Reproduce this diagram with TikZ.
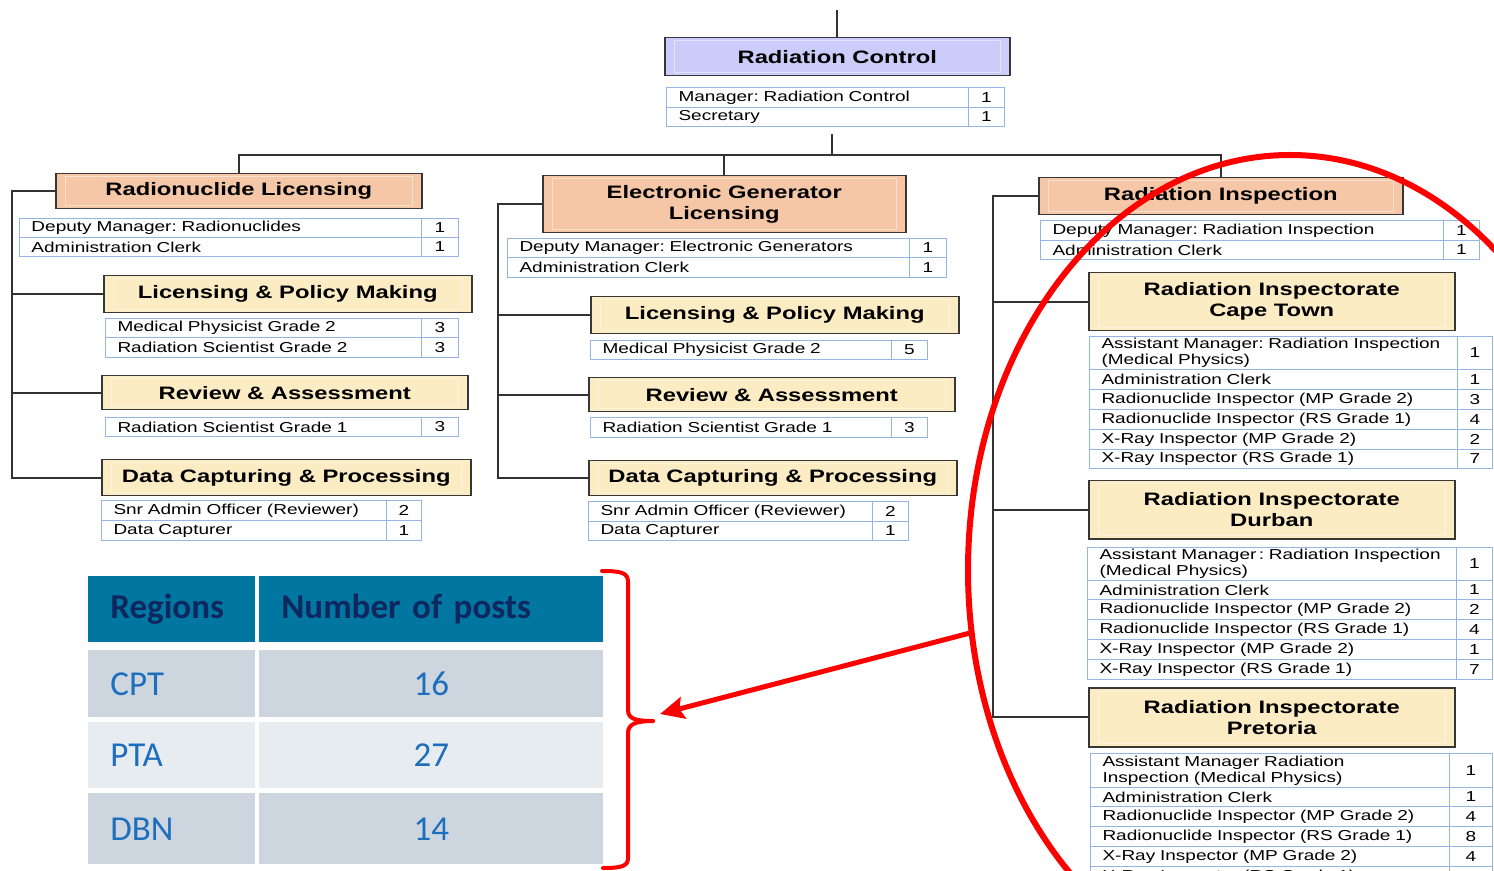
\documentclass[tikz,border=0pt]{standalone}
\usepackage{fontspec}
\setmainfont{Liberation Sans}
\newfontfamily\orgfont[FakeStretch=1.32]{Liberation Sans}
\newfontfamily\tabfont{Carlito}
\usetikzlibrary{arrows.meta}
\frenchspacing
\hyphenpenalty=10000
\exhyphenpenalty=10000
\definecolor{lav}{RGB}{204,204,250}
\definecolor{salm}{RGB}{246,199,166}
\definecolor{yel}{RGB}{252,236,196}
\definecolor{boxline}{RGB}{55,55,55}
\definecolor{tline}{RGB}{150,180,230}
\definecolor{connc}{RGB}{50,50,50}
\definecolor{headc}{RGB}{0,118,160}
\definecolor{navyc}{RGB}{14,40,95}
\definecolor{rowd}{RGB}{205,214,223}
\definecolor{rowl}{RGB}{231,236,241}
\definecolor{bluet}{RGB}{30,110,190}
\tikzset{
  hdrbox/.style={draw=boxline, line width=0.75pt, inner sep=0pt, align=center, anchor=north west,
    font=\orgfont\bfseries\fontsize{9}{10.5}\selectfont},
  cellbox/.style={draw=tline, line width=0.5pt, inner ysep=0pt, inner xsep=6pt, align=left, anchor=north west,
    font=\orgfont\fontsize{7.2}{8}\selectfont},
  numbox/.style={draw=tline, line width=0.5pt, inner sep=0pt, anchor=north west,
    font=\orgfont\fontsize{7.2}{8}\selectfont},
  conn/.style={draw=connc, line width=0.8pt},
  thd/.style={fill=headc, text=navyc, align=left, font=\tabfont\bfseries\fontsize{17.5}{20}\selectfont},
  tdl/.style={text=bluet, align=left, font=\tabfont\fontsize{17.5}{20}\selectfont},
  tdc/.style={text=bluet, align=center, font=\tabfont\fontsize{17.5}{20}\selectfont},
  redline/.style={draw=red, line width=2.5pt},
}
\newcommand\hdr[7]{%
  \pgfmathsetmacro\myW{(#4-#2)*0.5}\pgfmathsetmacro\myH{(#5-#3)*0.5}%
  \node[hdrbox, fill=#6, minimum width=\myW pt, minimum height=\myH pt] (#1) at (#2,#3) {#7};
  \draw[white, opacity=0.45, line width=0.5pt] ([xshift=5pt,yshift=-2pt]#1.north west) rectangle ([xshift=-5pt,yshift=2pt]#1.south east);
}
\newcommand\crow[8]{%
  \pgfmathsetmacro\myTW{(#3-#2)*0.5-12}\pgfmathsetmacro\myH{(#6-#5)*0.5}\pgfmathsetmacro\myNW{(#4-#3)*0.5}%
  \node[cellbox, text width=\myTW pt, minimum height=\myH pt] (#1t) at (#2,#5) {#7};
  \node[numbox, minimum width=\myNW pt, minimum height=\myH pt] (#1n) at (#3,#5) {#8};
}
\newcommand\tcell[7]{%
  \pgfmathsetmacro\myW{(#4-#2)*0.5}\pgfmathsetmacro\myH{(#5-#3)*0.5}\pgfmathsetmacro\myTW{(#4-#2)*0.5-22}%
  \node[#6, anchor=north west, inner ysep=0pt, inner xsep=11pt, minimum width=\myW pt, minimum height=\myH pt, text width=\myTW pt] (#1) at (#2,#3) {#7};
}
\begin{document}
\begin{tikzpicture}[x=0.5pt,y=-0.5pt]
\fill[white] (0,0) rectangle (1494,871);
\clip (0,0) rectangle (1494,871);

% ---- top
\hdr{rc}{664}{37}{1009}{75}{lav}{Radiation Control}
\crow{rca}{666}{968}{1004}{87}{107}{Manager: Radiation Control}{1}
\crow{rcb}{666}{968}{1004}{107}{126}{Secretary}{1}

% ---- left column
\hdr{rl}{55}{173}{421}{208}{salm}{Radionuclide Licensing}
\crow{rla}{19}{421}{458}{218}{237}{Deputy Manager: Radionuclides}{1}
\crow{rlb}{19}{421}{458}{237}{256}{Administration Clerk}{1}
\hdr{lpL}{103}{275}{471}{312}{yel}{Licensing \& Policy Making}
\crow{lpLa}{105}{421}{458}{318}{337}{Medical Physicist Grade 2}{3}
\crow{lpLb}{105}{421}{458}{337}{357}{Radiation Scientist Grade 2}{3}
\hdr{raL}{101}{375}{467}{409}{yel}{Review \& Assessment}
\crow{raLa}{105}{421}{458}{417}{436}{Radiation Scientist Grade 1}{3}
\hdr{dcL}{101}{459}{470}{495}{yel}{Data Capturing \& Processing}
\crow{dcLa}{101}{386}{421}{500}{520}{Snr Admin Officer (Reviewer)}{2}
\crow{dcLb}{101}{386}{421}{520}{540}{Data Capturer}{1}

% ---- middle column
\hdr{egl}{542}{175}{905}{232}{salm}{Electronic Generator\\Licensing}
\crow{egla}{507}{909}{946}{238}{257}{Deputy Manager: Electronic Generators}{1}
\crow{eglb}{507}{909}{946}{257}{277}{Administration Clerk}{1}
\hdr{lpM}{590}{296}{958}{333}{yel}{Licensing \& Policy Making}
\crow{lpMa}{590}{891}{927}{340}{359}{Medical Physicist Grade 2}{5}
\hdr{raM}{588}{377}{954}{411}{yel}{Review \& Assessment}
\crow{raMa}{590}{891}{927}{417}{437}{Radiation Scientist Grade 1}{3}
\hdr{dcM}{588}{460}{956}{495}{yel}{Data Capturing \& Processing}
\crow{dcMa}{588}{872}{908}{501}{521}{Snr Admin Officer (Reviewer)}{2}
\crow{dcMb}{588}{872}{908}{521}{540}{Data Capturer}{1}

% ---- right column
\hdr{ri}{1038}{177}{1402}{214}{salm}{Radiation Inspection}
\crow{ria}{1040}{1443}{1479}{220}{240}{Deputy Manager: Radiation Inspection}{1}
\crow{rib}{1040}{1443}{1479}{240}{259}{Administration Clerk}{1}

\hdr{ct}{1088}{272}{1454}{330}{yel}{Radiation Inspectorate\\Cape Town}
\crow{cta}{1089}{1457}{1492}{336}{369}{Assistant Manager: Radiation Inspection\\(Medical Physics)}{1}
\crow{ctb}{1089}{1457}{1492}{369}{389}{Administration Clerk}{1}
\crow{ctc}{1089}{1457}{1492}{389}{409}{Radionuclide Inspector (MP Grade 2)}{3}
\crow{ctd}{1089}{1457}{1492}{409}{429}{Radionuclide Inspector (RS Grade 1)}{4}
\crow{cte}{1089}{1457}{1492}{429}{449}{X-Ray Inspector (MP Grade 2)}{2}
\crow{ctf}{1089}{1457}{1492}{449}{468}{X-Ray Inspector (RS Grade 1)}{7}

\hdr{db}{1088}{480}{1454}{538}{yel}{Radiation Inspectorate\\Durban}
\crow{dba}{1087}{1456}{1492}{547}{580}{\mbox{Assistant Manager\,: Radiation Inspection}\\(Medical Physics)}{1}
\crow{dbb}{1087}{1456}{1492}{580}{599}{Administration Clerk}{1}
\crow{dbc}{1087}{1456}{1492}{599}{619}{Radionuclide Inspector (MP Grade 2)}{2}
\crow{dbd}{1087}{1456}{1492}{619}{639}{Radionuclide Inspector (RS Grade 1)}{4}
\crow{dbe}{1087}{1456}{1492}{639}{659}{X-Ray Inspector (MP Grade 2)}{1}
\crow{dbf}{1087}{1456}{1492}{659}{679}{X-Ray Inspector (RS Grade 1)}{7}

\hdr{pt}{1088}{687}{1454}{746}{yel}{Radiation Inspectorate\\Pretoria}
\crow{pta}{1090}{1449}{1492}{753}{787}{Assistant Manager Radiation\\Inspection (Medical Physics)}{1}
\crow{ptb}{1090}{1449}{1492}{787}{806}{Administration Clerk}{1}
\crow{ptc}{1090}{1449}{1492}{806}{826}{Radionuclide Inspector (MP Grade 2)}{4}
\crow{ptd}{1090}{1449}{1492}{826}{846}{Radionuclide Inspector (RS Grade 1)}{8}
\crow{pte}{1090}{1449}{1492}{846}{866}{X-Ray Inspector (MP Grade 2)}{4}
\crow{ptf}{1090}{1449}{1492}{866}{886}{X-Ray Inspector (RS Grade 1)}{11}

% ---- connectors
\coordinate (topEnd) at (837,10);
\draw[conn] (topEnd) -- (topEnd |- rc.north);
\coordinate (hubA) at (832,134);
\coordinate (hubB) at (832,155);
\draw[conn] (hubA) -- (hubB);
\draw[conn] (rl.north) -- (rl.north |- hubB) -- (ri.north |- hubB) -- (ri.north);
\draw[conn] (egl.north) -- (egl.north |- hubB);

\coordinate (tL) at (12,0);
\draw[conn] (rl.west) -- (tL |- rl.west) -- (tL |- dcL.west) -- (dcL.west);
\draw[conn] (tL |- lpL.west) -- (lpL.west);
\draw[conn] (tL |- raL.west) -- (raL.west);

\coordinate (tM) at (498,0);
\draw[conn] (egl.west) -- (tM |- egl.west) -- (tM |- dcM.west) -- (dcM.west);
\draw[conn] (tM |- lpM.west) -- (lpM.west);
\draw[conn] (tM |- raM.west) -- (raM.west);

\coordinate (tR) at (993,0);
\draw[conn] (ri.west) -- (tR |- ri.west) -- (tR |- pt.west) -- (pt.west);
\draw[conn] (tR |- ct.west) -- (ct.west);
\draw[conn] (tR |- db.west) -- (db.west);

% ---- regions table
\tcell{th1}{88}{576}{255}{642}{thd}{Regions}
\tcell{th2}{259}{576}{603}{642}{thd}{Number of posts}
\tcell{r1a}{88}{650}{255}{717}{tdl,fill=rowd}{CPT}
\tcell{r1b}{259}{650}{603}{717}{tdc,fill=rowd}{16}
\tcell{r2a}{88}{722}{255}{788}{tdl,fill=rowl}{PTA}
\tcell{r2b}{259}{722}{603}{788}{tdc,fill=rowl}{27}
\tcell{r3a}{88}{793}{255}{864}{tdl,fill=rowd}{DBN}
\tcell{r3b}{259}{793}{603}{864}{tdc,fill=rowd}{14}

% ---- red annotations
\coordinate (brTop) at (602,571);
\coordinate (brTip) at (653,721);
\coordinate (brBot) at (603,868);
\draw[redline, line width=2pt, line cap=round]
  (brTop) .. controls (622,571) and (628,573) .. (628,582) -- (628,710)
  .. controls (628,719) and (636,721) .. (brTip);
\draw[redline, line width=2pt, line cap=round]
  (brTip) .. controls (636,721) and (628,724) .. (628,733) -- (628,858)
  .. controls (628,866) and (622,868) .. (brBot);

\draw[draw=red, line width=3pt] (1290,570) ellipse [x radius=161pt, y radius=207.5pt];
\coordinate (arrS) at (970,633);
\coordinate (arrE) at (660,714);
\draw[redline, -{Stealth[length=12pt,width=11pt,inset=2pt]}] (arrS) -- (arrE);
\end{tikzpicture}
\end{document}
